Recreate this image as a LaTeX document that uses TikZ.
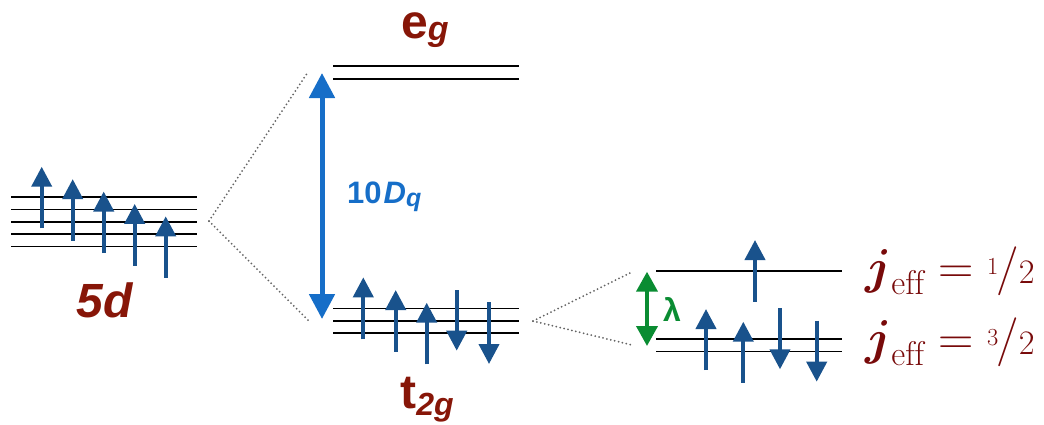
\documentclass[tikz,border=0pt]{standalone}
\usepackage{fix-cm}
\usepackage{amsmath}
\usepackage{fontspec}
\newfontfamily\arialfont{Liberation Sans}
\usetikzlibrary{arrows.meta}
\definecolor{orbred}{RGB}{135,22,8}
\definecolor{jred}{RGB}{120,10,10}
\definecolor{spinblue}{RGB}{25,82,140}
\definecolor{dqblue}{RGB}{22,110,200}
\definecolor{lamgreen}{RGB}{10,140,50}
\definecolor{gapgray}{RGB}{100,100,100}
\newcommand{\halfof}[1]{\raisebox{9pt}{$\scriptscriptstyle #1$}\kern-2pt/{\scriptstyle 2}}

\begin{document}
\begin{tikzpicture}[x=1pt, y=-1pt,
                    level/.style={line width=1.6pt},
                    spin/.style={line width=4pt, spinblue, -{Triangle[width=20pt,length=20pt]}},
                    gap/.style={line width=2pt, gapgray, dash pattern=on 0pt off 4pt, line cap=round},
                    orb/.style={orbred, inner sep=0pt, font=\arialfont\bfseries},
                    jlab/.style={jred, inner sep=0pt, font=\fontsize{49}{49}\selectfont}
                    ]
                    \useasboundingbox (0,0) rectangle (1044,424);

                    % levels
                    \foreach \y in {197,209.4,221.8,234.2,246.6}{
                        \draw[level] (11,\y) -- (197,\y);
                    }
                    \foreach \y in {66,78.7}{
                        \draw[level] (333,\y) -- (519,\y);
                    }
                    \foreach \y in {308.3,320.7,333}{
                        \draw[level] (333,\y) -- (519,\y);
                    }
                    \foreach \y in {270.7,338.7,351.3}{
                        \draw[level] (656,\y) -- (842,\y);
                    }

                    % spins
                    \foreach \i in {0,...,4}{
                        \draw[spin] ({41.7+31*\i},{228.3+12.4*\i}) -- ++(0,-61.6);
                    }
                    \foreach \x/\a/\b in {363.3/339.3/277.3,395.7/351.7/290,426.7/364.3/302.7,456.7/290/350.7,489/302.3/364,
                                          755/301.7/240,706/370/309,743.3/382.7/321.7,780/308.3/369.3,816.7/320.7/381.7}{
                        \draw[spin] (\x,\a) -- (\x,\b);
                    }

                    % splitting
                    \coordinate (dR) at (209,221);
                    \coordinate (egL) at (308,72);
                    \coordinate (tL) at (308,320);
                    \coordinate (tR) at (533,321);
                    \coordinate (halfL) at (632,272);
                    \coordinate (threeL) at (632,345);
                    \foreach \i/\j in {dR/egL,dR/tL,tR/halfL,tR/threeL}{
                        \draw[gap] (\i) -- (\j);
                    }

                    \coordinate (eg) at (322,73);
                    \coordinate (t2g) at (322,319);
                    \draw[line width=5pt, dqblue, {Triangle[width=25pt,length=25pt]}-{Triangle[width=25pt,length=25pt]}] (eg) -- (t2g);
                    \coordinate (j12) at (647,271.7);
                    \coordinate (j32) at (647,346);
                    \draw[line width=4pt, lamgreen, {Triangle[width=21pt,length=20pt]}-{Triangle[width=21pt,length=20pt]}] (j12) -- (j32);

                    % labels
                    \node[orb] (d5) at (105,300) {\itshape\fontsize{48}{48}\selectfont 5d};
                    \node[orb, anchor=base] (egl) at (425,38) {\fontsize{48}{48}\selectfont e\raisebox{-2pt}{\itshape\fontsize{34}{34}\selectfont g}};
                    \node[orb, anchor=base] (t2gl) at (427,408) {\fontsize{48}{48}\selectfont t\raisebox{-7pt}{\itshape\fontsize{32}{32}\selectfont 2g}};
                    \node[dqblue, font=\arialfont\bfseries, inner sep=0pt, anchor=base west] (dq) at (347,203.3) {\fontsize{31}{31}\selectfont 10\kern2pt\textit{D}\raisebox{-3pt}{\itshape\fontsize{25}{25}\selectfont q}};
                    \node[lamgreen, font=\arialfont\bfseries, inner sep=0pt] (lam) at (672,309) {\fontsize{32}{32}\selectfont λ};
                    \node[jlab, anchor=base west] (half) at (865,283.5) {$\boldsymbol{j}_{\mathrm{eff}} = \halfof{1}$};
                    \node[jlab, anchor=base west] (three) at (865,354) {$\boldsymbol{j}_{\mathrm{eff}} = \halfof{3}$};
                \end{tikzpicture}
\end{document}
